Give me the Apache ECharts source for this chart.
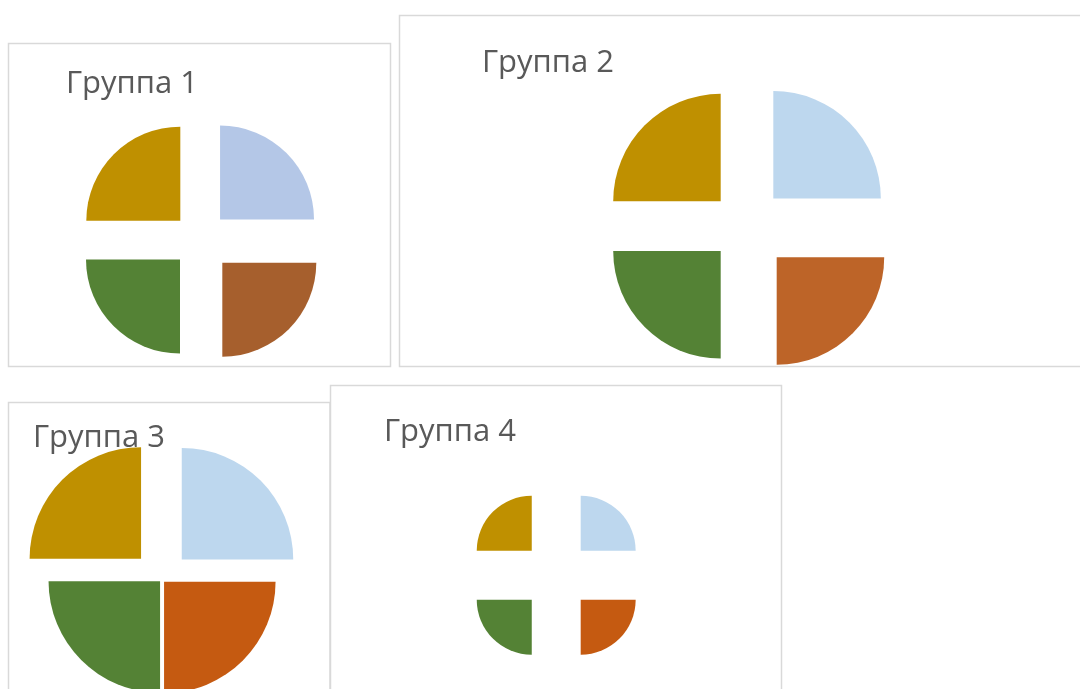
<!DOCTYPE html>
<html>
<head>
<meta charset="utf-8">
<script src="https://cdn.jsdelivr.net/npm/echarts@6/dist/echarts.min.js"></script>
<style>
  html, body { margin: 0; padding: 0; background: #fff; }
  #chart { width: 1080px; height: 689px; }
</style>
</head>
<body>
<div id="chart"></div>
<script>
// ---- data ----
const categories = ['Сегмент 1', 'Сегмент 2', 'Сегмент 3', 'Сегмент 4'];
const groupTitles = ['Группа 1', 'Группа 2', 'Группа 3', 'Группа 4'];
const group1 = [25, 25, 25, 25];
const group2 = [25, 25, 25, 25];
const group3 = [25, 25, 25, 25];
const group4 = [25, 25, 25, 25];
const groupValues = [group1, group2, group3, group4];

// ---- layout & style ----
const panels = [
  { box: [8.5, 43.5, 382, 323],  title: [66, 68.7],   center: [199.6, 240.0], radius: 94,
    offsets: [28.9, 32.1, 27.7, 27.3], colors: ['#B4C7E7', '#A65F2D', '#548235', '#BF9000'] },
  { box: [399.5, 15.5, 720, 351], title: [482, 47.7],  center: [745.6, 226.2], radius: 107.5,
    offsets: [39.2, 44.0, 35.2, 35.2], colors: ['#BDD7EE', '#BD6428', '#548235', '#BF9000'] },
  { box: [8.5, 402.5, 321.5, 320], title: [33, 422.7], center: [161.8, 579.4], radius: 111.5,
    offsets: [28.2, 3.2, 2.5, 29.3], colors: ['#BDD7EE', '#C55A11', '#548235', '#BF9000'] },
  { box: [330.5, 385.5, 451, 320], title: [384, 416.7], center: [556.2, 575.2], radius: 55,
    offsets: [34.6, 34.6, 34.6, 34.6], colors: ['#BDD7EE', '#C55A11', '#548235', '#BF9000'] }
];

const chart = echarts.init(document.getElementById('chart'), null, { renderer: 'canvas' });

const graphic = panels.map(p => ({
  type: 'rect', z: 0,
  shape: { x: p.box[0], y: p.box[1], width: p.box[2], height: p.box[3] },
  style: { fill: '#fff', stroke: '#D9D9D9', lineWidth: 1.5 }
}));

const title = panels.map((p, i) => ({
  text: groupTitles[i],
  left: p.title[0], top: p.title[1], padding: 0,
  textStyle: { fontFamily: 'Open Sans', fontSize: 31, fontWeight: 'normal', color: '#595959', lineHeight: 31 }
}));

const series = [];
panels.forEach((p, gi) => {
  const vals = groupValues[gi];
  vals.forEach((_, si) => {
    series.push({
      type: 'pie',
      center: p.center,
      radius: p.radius,
      startAngle: 90,
      clockwise: true,
      selectedMode: 'multiple',
      selectedOffset: p.offsets[si],
      silent: true,
      animation: false,
      label: { show: false },
      labelLine: { show: false },
      emphasis: { disabled: true },
      itemStyle: { borderWidth: 0 },
      data: vals.map((v, j) => ({
        value: v,
        name: categories[j],
        selected: j === si,
        itemStyle: { color: j === si ? p.colors[j] : 'rgba(0,0,0,0)', borderWidth: 0 }
      }))
    });
  });
});

chart.setOption({
  animation: false,
  backgroundColor: '#fff',
  title: title,
  graphic: graphic,
  series: series
});
</script>
</body>
</html>
